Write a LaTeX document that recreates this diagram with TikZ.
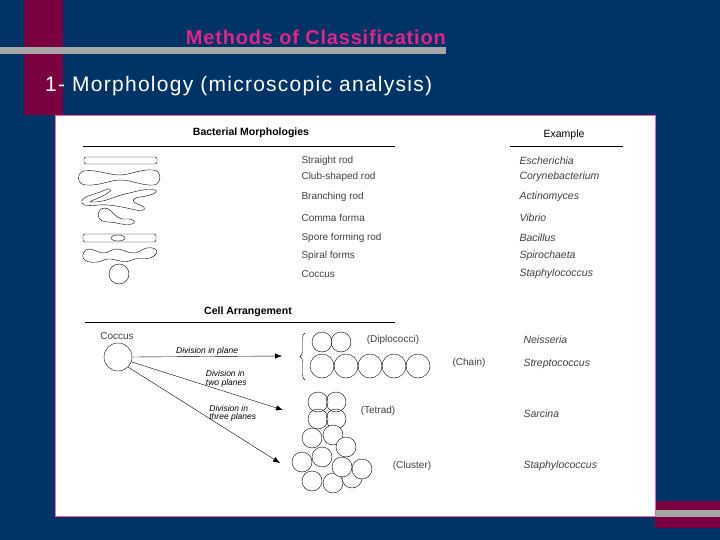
\documentclass[tikz,border=0pt]{standalone}
\usepackage{fontspec}
\setmainfont{Liberation Sans}
\usetikzlibrary{arrows.meta,decorations.pathreplacing}
\definecolor{navy}{HTML}{003366}
\definecolor{wine}{HTML}{7A0040}
\definecolor{pinktitle}{HTML}{E0248A}
\tikzset{
  lbl/.style={anchor=west,font=\fontsize{10}{11}\selectfont,text=black!75},
  ex/.style={anchor=west,font=\fontsize{10.5}{11}\selectfont\itshape,text=black!75},
  hdr/.style={font=\fontsize{10.5}{11}\selectfont\bfseries},
  cell/.style={draw,thin},
  divarrow/.style={-{Latex[length=7pt]},thin},
  divlbl/.style={font=\fontsize{8.5}{8.5}\selectfont\itshape,align=left,inner sep=1pt}
}
\begin{document}
\begin{tikzpicture}[x=1pt,y=-1pt]
    \useasboundingbox (0,0) rectangle (720,540);
    % slide background
    \fill [navy] (0,0) rectangle (720,540);
    \fill [wine] (24,0) rectangle (63,115);
    \fill [gray!70] (0,47) rectangle (446,54);
    \fill [wine] (655,501) rectangle (720,528);
    \fill [gray!70] (655,510) rectangle (720,517);
    \node (title) [font=\fontsize{20}{21}\selectfont\bfseries\addfontfeature{LetterSpace=4},text=pinktitle,anchor=east,inner sep=0pt] at (446,37) {Methods of Classification};
    \node (sub) [font=\fontsize{21}{22}\selectfont\addfontfeature{LetterSpace=6},text=white,anchor=west,inner sep=0pt] at (45,86) {1- Morphology (microscopic analysis)};
    % white panel
    \draw [magenta!60,fill=white] (55,115) rectangle (655,516);
    % headers
    \node (hmorph) [hdr] at (251,133) {Bacterial Morphologies};
    \draw [thick] (83,146) -- (395,146);
    \node (hex) [hdr,font=\fontsize{10.5}{11}\selectfont] at (564,135) {Example};
    \draw [thick] (510,146) -- (623,146);
    % morphologies
    \foreach \y/\t/\e in {161/Straight rod/Escherichia, 177/Club-shaped rod/Corynebacterium,
        197/Branching rod/Actinomyces, 218/Comma forma/Vibrio, 238/Spore forming rod/Bacillus,
        256/Spiral forms/Spirochaeta, 274/Coccus/Staphylococcus}
        {\node [lbl] at (298,\y) {\t}; \node [ex] at (516,\y) {\e};}
    \draw [rounded corners=2pt] (84,157) rectangle (157,164);
    \draw (84,171) .. controls (76,173) and (77,185) .. (86,185) .. controls (100,186) and (110,180) .. (120,180)
        .. controls (132,180) and (142,186) .. (154,185) .. controls (162,184) and (162,170) .. (153,170)
        .. controls (140,169) and (130,175) .. (120,175) .. controls (108,175) and (96,169) .. cycle;
    \draw (82,203) .. controls (80,196) and (95,195) .. (105,190) .. controls (110,187) and (113,190) .. (108,193)
        .. controls (100,198) and (92,200) .. (90,202) .. controls (105,203) and (115,196) .. (125,194)
        .. controls (135,192) and (145,188) .. (155,190) .. controls (160,192) and (150,196) .. (140,197)
        .. controls (132,198) and (130,202) .. (140,205) .. controls (148,208) and (145,212) .. (136,210)
        .. controls (122,207) and (110,204) .. (98,205) .. controls (90,206) and (83,206) .. cycle;
    \draw (100,210) .. controls (96,214) and (98,222) .. (108,222) .. controls (118,222) and (122,226) .. (132,224)
        .. controls (138,222) and (132,218) .. (126,219) .. controls (118,220) and (114,214) .. (110,210)
        .. controls (106,207) and (102,208) .. cycle;
    \draw [rounded corners=2pt] (83,234) rectangle (156,242);
    \draw (118,238) ellipse (7 and 3);
    \draw (84,252) .. controls (90,243) and (100,258) .. (110,251) .. controls (120,244) and (130,258) .. (140,251)
        .. controls (148,245) and (160,248) .. (156,254) .. controls (150,262) and (140,256) .. (132,260)
        .. controls (122,265) and (112,256) .. (104,260) .. controls (94,265) and (78,262) .. cycle;
    \draw (119,274) circle (10);
    % cell arrangement
    \node (harr) [hdr] at (248,312) {Cell Arrangement};
    \draw (85,322) -- (395,322);
    \node (clbl) [lbl,anchor=center] at (117,336) {Coccus};
    \node (coccus) [cell,circle,minimum size=28pt,inner sep=0pt] at (118,357) {};
    \coordinate (t1) at (282,356);
    \coordinate (t2) at (283,410);
    \coordinate (t3) at (280,463);
    \draw [divarrow] (coccus.east) -- (t1) node [divlbl,midway,above] {Division in plane};
    \draw [divarrow] (coccus.-20) -- (t2) node [divlbl,pos=.55,above right,xshift=-10pt] {Division in\\two planes};
    \draw [divarrow] (coccus.-45) -- (t3) node [divlbl,pos=.58,above right,xshift=-8pt] {Division in\\three planes};
    \draw [decorate,decoration={brace,amplitude=5pt}] (305,380) -- (305,333);
    % diplococci and chain
    \foreach \x in {322,341} \draw [cell] (\x,342) circle (10);
    \foreach \x in {322,346,370,394,418} \draw [cell] (\x,366) circle (12);
    \node (dip) [lbl,anchor=center] at (393,340) {(Diplococci)};
    \node (chain) [lbl,anchor=center] at (469,363) {(Chain)};
    % tetrad
    \foreach \x/\y in {318/402,336/402,318/419,336/419} \draw [cell] (\x,\y) circle (10);
    \node (tet) [lbl,anchor=center] at (378,411) {(Tetrad)};
    % cluster
    \foreach \x/\y in {312/438,333/435,312/481,333/483,352/478,302/462,322/457,346/447,342/467,362/469}
        \draw [cell,fill=white] (\x,\y) circle (10);
    \node (clu) [lbl,anchor=center] at (412,466) {(Cluster)};
    % examples
    \node [ex] at (520,340) {Neisseria};
    \node [ex] at (520,364) {Streptococcus};
    \node [ex] at (520,414) {Sarcina};
    \node [ex] at (520,466) {Staphylococcus};
\end{tikzpicture}
\end{document}
